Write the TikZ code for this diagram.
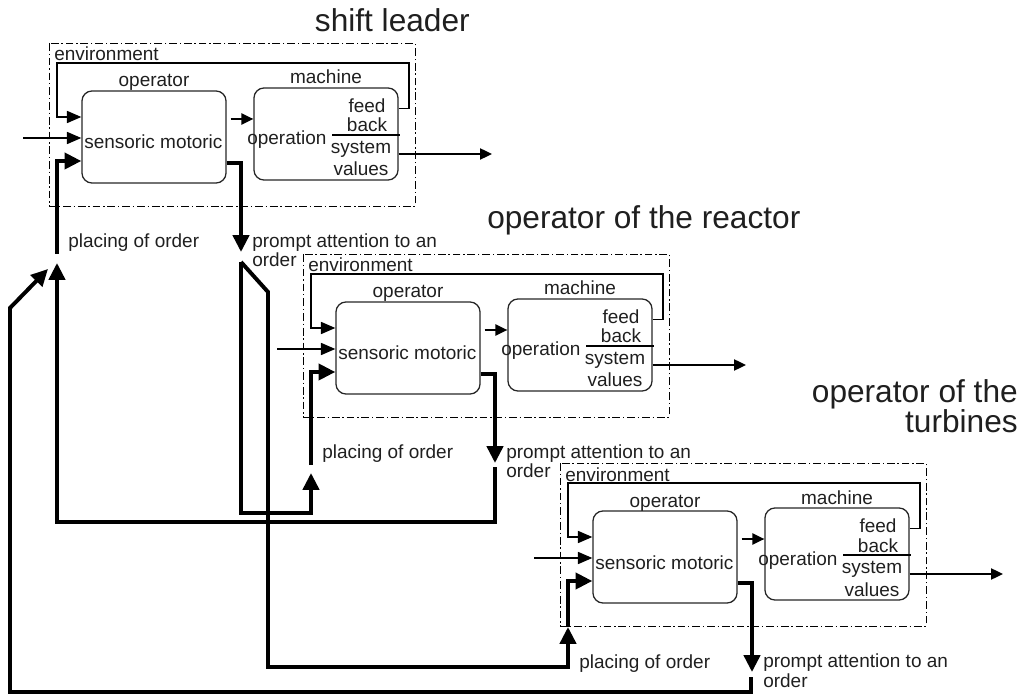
\documentclass[tikz,border=0pt]{standalone}
\usepackage{fontspec}
\setmainfont{Liberation Sans}
\usepackage{tikz}
\usetikzlibrary{calc}
\usetikzlibrary{arrows.meta}
\tikzset{
    frame/.style={line width=0.7pt, dash pattern=on 5.5pt off 2pt on 1pt off 2pt},
    unit/.style={draw=black!85, line width=0.9pt, rounded corners=0.25cm,
        minimum width=3.6cm, minimum height=2.3cm, inner sep=0pt},
    thin arrow/.style={line width=1.2pt, -{Triangle[length=0.36cm,width=0.3cm]}},
    small arrow/.style={line width=1.2pt, -{Triangle[length=0.3cm,width=0.28cm]}},
    order arrow/.style={line width=2.8pt, -{Triangle[length=0.42cm,width=0.4cm]}},
    lbl/.style={font=\fontsize{13.5}{14.2}\selectfont, text=black!88, inner sep=0pt},
    title/.style={font=\fontsize{22.5}{18.5}\selectfont, text=black!88, inner sep=0pt}
}

\begin{document}
\begin{tikzpicture}[x=0.025cm,y=-0.025cm]
\useasboundingbox (0,0) rectangle (1026,694);

%%% TITLES %%%
\node[title,anchor=base east] (tl1) at (470,32) {shift leader};
\node[title,anchor=base west] (tl2) at (487,229) {operator of the reactor};
\node[title,align=right,anchor=base east] (tl3) at (1018,433) {operator of the\\turbines};

%%% THE THREE UNITS %%%
\foreach \n/\dx/\dy/\pl in {1/0/0/254, 2/254/211/254, 3/511/420/207}{
\begin{scope}[shift={(\dx,\dy)}]
% environment frame
\draw[frame] (49,43) rectangle (415,206);
\node[lbl,anchor=base west] (env\n) at (54,61) {environment};
% operator and machine
\node[unit] (op\n) at (154,137) {};
\node[unit] (mach\n) at (326,134) {};
\node[lbl,anchor=base] (opl\n) at (op\n.north |- 0,87) {operator};
\node[lbl,anchor=base] (mal\n) at (mach\n.north |- 0,84) {machine};
\node[lbl,anchor=base west] (sm\n) at (84,149) {sensoric motoric};
\node[lbl,anchor=base west] (opn\n) at (247,145) {operation};
\node[lbl,align=center,anchor=base] (fb\n) at (367,132) {feed\\back};
\node[lbl,align=center,anchor=base] (sv\n) at (361,176) {system\\[2pt]values};
\draw[line width=0.9pt] (332,135) -- (400,135);
% points
\coordinate (in\n) at (23,138);
\coordinate (out\n) at (492,154);
\coordinate (pl\n) at (57,\pl);
\coordinate (pa\n) at (241,252);
% connectors
\draw[thin arrow] ($(mach\n.north east)+(0,21)$) -| (409,63) -| (57,117) -- (op\n.west |- 0,117);
\draw[thin arrow] (in\n) -- (op\n.west |- in\n);
\draw[small arrow] ($(op\n.east |- 0,119)+(4,0)$) -- (mach\n.west |- 0,119);
\draw[small arrow] (mach\n.east |- out\n) -- (out\n);
\draw[order arrow] (pl\n) |- (op\n.west |- 0,161);
\draw[order arrow] (op\n.east |- 0,163) -| (pa\n);
% labels
\node[lbl,anchor=base west] (plc\n) at (68,248) {placing of order};
\node[lbl,align=left,anchor=base west] (pmt\n) at (252,267) {prompt attention to an\\order};
\end{scope}
}

%%% COORDINATES %%%
\coordinate (ord1) at (241,262); % below prompt of shift leader
\coordinate (ord2) at (495,467); % below prompt of reactor
\coordinate (ord3) at (751,677); % below prompt of turbines
\coordinate (tip1) at (57,263);  % placing of order, shift leader
\coordinate (tip2) at (311,473); % placing of order, reactor
\coordinate (tip3) at (568,627); % placing of order, turbines
\coordinate (tip0) at (48,269);  % return into shift leader
\coordinate (kink) at (268,292);

%%% ORDERS %%%
\draw[order arrow] (ord1) -- ++(0,251) -| (tip2);
\draw[order arrow] (ord1) -- (kink) -- ++(0,375) -| (tip3);
\draw[order arrow] (ord2) -- ++(0,55) -| (tip1);
\draw[order arrow] (ord3) -- ++(0,15) -| ($(tip0)+(-38,39)$) -- (tip0);
\end{tikzpicture}
\end{document}
